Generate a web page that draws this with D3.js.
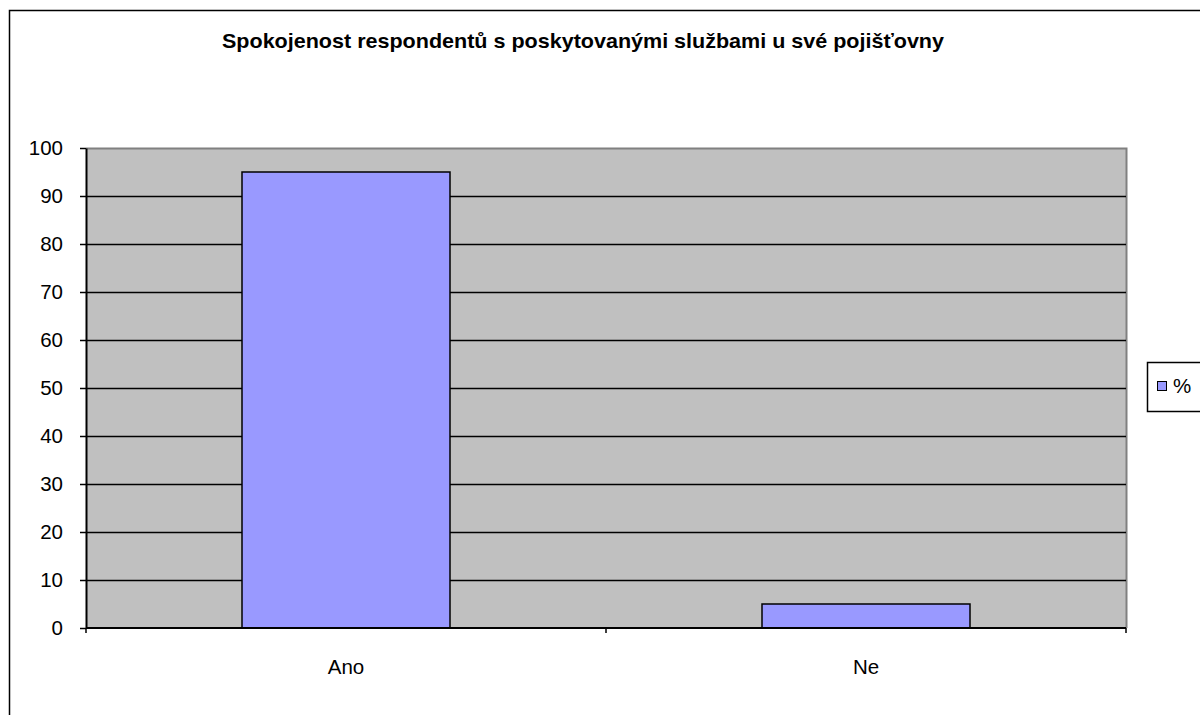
<!DOCTYPE html>
<html>
<head>
<meta charset="utf-8">
<script src="https://cdn.jsdelivr.net/npm/d3@7"></script>
<style>
  html, body { margin: 0; padding: 0; background: #fff; }
  svg { display: block; font-family: Arial, "Liberation Sans", sans-serif; }
</style>
</head>
<body>
<svg id="chart" width="1200" height="715"></svg>
<script>
// Survey answers and their share in percent
const categories = ["Ano", "Ne"];
const values = [95, 5];
const seriesName = "%";
const yTicks = [0, 10, 20, 30, 40, 50, 60, 70, 80, 90, 100];
const title = "Spokojenost respondentů s poskytovanými službami u své pojišťovny";

const svg = d3.select("#chart");

// Outer chart frame (extends past the right and bottom edges)
svg.append("rect")
  .attr("x", 9.5).attr("y", 10.5)
  .attr("width", 1250).attr("height", 760)
  .attr("fill", "#fff").attr("stroke", "#000").attr("stroke-width", 1.5);

const plot = { left: 86, right: 1126, top: 148, bottom: 628 };

const x = d3.scaleBand()
  .domain(categories)
  .range([plot.left, plot.right])
  .paddingInner(0.6)
  .paddingOuter(0.3);

const xBands = d3.scaleBand()
  .domain(categories)
  .range([plot.left, plot.right]);

const y = d3.scaleLinear()
  .domain([0, 100])
  .range([plot.bottom, plot.top]);

// Plot area background
svg.append("rect")
  .attr("x", plot.left).attr("y", plot.top)
  .attr("width", plot.right - plot.left).attr("height", plot.bottom - plot.top)
  .attr("fill", "#c0c0c0");

// Gray top/right border of the plot area
svg.append("path")
  .attr("d", `M${plot.left},${plot.top + 0.5}H${plot.right + 0.5}V${plot.bottom}`)
  .attr("fill", "none").attr("stroke", "#808080").attr("stroke-width", 2);

// Horizontal gridlines
svg.append("g")
  .selectAll("line")
  .data(yTicks.filter(d => d > 0 && d < 100))
  .join("line")
  .attr("x1", plot.left).attr("x2", plot.right)
  .attr("y1", d => Math.round(y(d)) + 0.5).attr("y2", d => Math.round(y(d)) + 0.5)
  .attr("stroke", "#000").attr("stroke-width", 1.5);

// Bars
svg.append("g")
  .selectAll("rect")
  .data(categories.map((c, i) => ({ c, v: values[i] })))
  .join("rect")
  .attr("x", d => x(d.c))
  .attr("y", d => y(d.v))
  .attr("width", x.bandwidth())
  .attr("height", d => y(0) - y(d.v))
  .attr("fill", "#9999ff")
  .attr("stroke", "#000").attr("stroke-width", 1.5);

// Y axis
const yAxis = svg.append("g")
  .attr("transform", `translate(${plot.left},0)`)
  .call(d3.axisLeft(y).tickValues(yTicks).tickSize(6).tickPadding(17).tickSizeOuter(0));
yAxis.select(".domain").attr("stroke", "#000").attr("stroke-width", 2);
yAxis.selectAll(".tick line").attr("stroke", "#000").attr("stroke-width", 1.5);
yAxis.selectAll(".tick text")
  .attr("font-size", 20.5).attr("fill", "#000")
  .attr("font-family", "Arial, 'Liberation Sans', sans-serif");

// X axis: ticks sit at the category boundaries
const xAxisG = svg.append("g")
  .attr("transform", `translate(0,${plot.bottom})`);
xAxisG.append("line")
  .attr("x1", plot.left).attr("x2", plot.right)
  .attr("stroke", "#000").attr("stroke-width", 2);
const boundaries = categories.map(c => xBands(c)).concat([xBands(categories[categories.length - 1]) + xBands.bandwidth()]);
xAxisG.selectAll("line.tick")
  .data(boundaries)
  .join("line")
  .attr("class", "tick")
  .attr("x1", d => d).attr("x2", d => d)
  .attr("y1", 0).attr("y2", 5)
  .attr("stroke", "#000").attr("stroke-width", 1.5);
xAxisG.selectAll("text")
  .data(categories)
  .join("text")
  .attr("x", d => xBands(d) + xBands.bandwidth() / 2)
  .attr("y", 46)
  .attr("text-anchor", "middle")
  .attr("font-size", 20.5)
  .text(d => d);

// Title
svg.append("text")
  .attr("x", 583).attr("y", 48)
  .attr("text-anchor", "middle")
  .attr("font-size", 21).attr("font-weight", "bold")
  .attr("textLength", 722).attr("lengthAdjust", "spacingAndGlyphs")
  .text(title);

// Legend
const legend = svg.append("g");
legend.append("rect")
  .attr("x", 1147.5).attr("y", 362.5)
  .attr("width", 80).attr("height", 49)
  .attr("fill", "#fff").attr("stroke", "#000").attr("stroke-width", 1.5);
legend.append("rect")
  .attr("x", 1157.5).attr("y", 381.5)
  .attr("width", 9).attr("height", 9)
  .attr("fill", "#9999ff").attr("stroke", "#000").attr("stroke-width", 1);
legend.append("text")
  .attr("x", 1173).attr("y", 393)
  .attr("font-size", 20.5)
  .text(seriesName);
</script>
</body>
</html>
